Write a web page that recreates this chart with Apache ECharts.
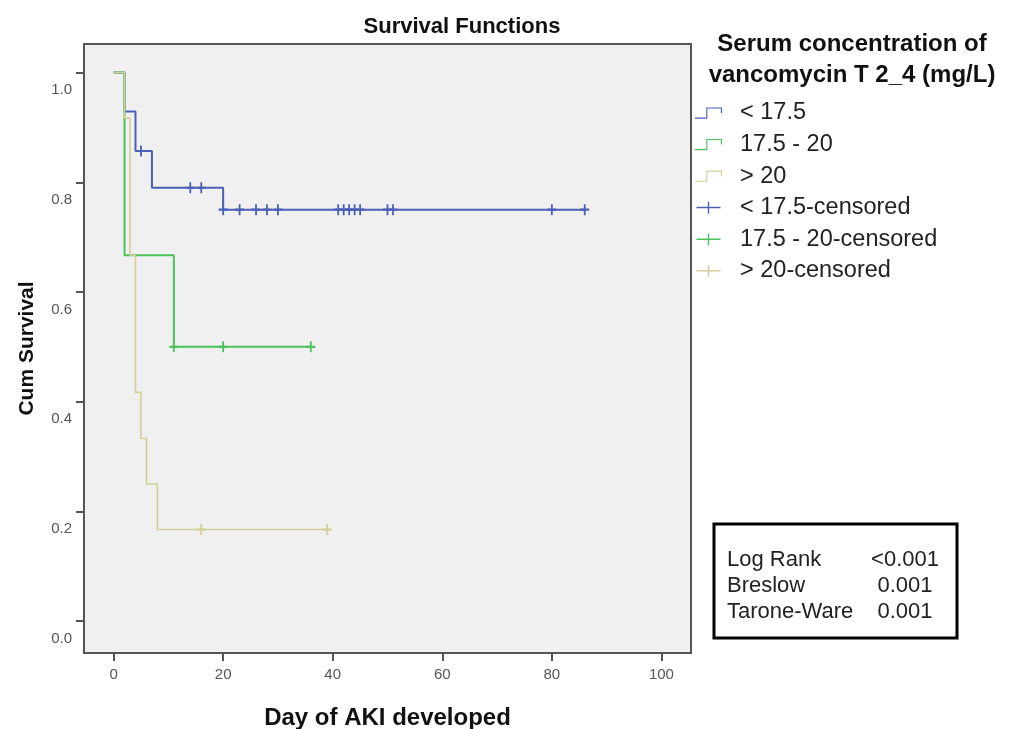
<!DOCTYPE html>
<html>
<head>
<meta charset="utf-8">
<script src="https://cdn.jsdelivr.net/npm/echarts@6/dist/echarts.min.js"></script>
<style>
  html, body { margin: 0; padding: 0; background: #fff; }
  #chart { width: 1013px; height: 729px; }
</style>
</head>
<body>
<div id="chart"></div>
<script>
// axis ticks
const xTicks = [0, 20, 40, 60, 80, 100]
const yTicks = [0, 0.2, 0.4, 0.6, 0.8, 1.0]

// groups
const groupNames = ['< 17.5', '17.5 - 20', '> 20']
const groupColors = ['#4b5fb5', '#4cc25a', '#d3cd98']

// Kaplan-Meier steps (day, cum survival)
const lowDays = [0, 2, 4, 7, 20, 86]
const lowSurv = [1.0, 0.929, 0.857, 0.79, 0.75, 0.75]
const midDays = [0, 2, 11, 36]
const midSurv = [1.0, 0.667, 0.5, 0.5]
const highDays = [0, 2, 3, 4, 5, 6, 8, 39]
const highSurv = [1.0, 0.917, 0.667, 0.417, 0.333, 0.25, 0.167, 0.167]

// censored days
const lowCensor = [5, 14, 16, 20, 23, 26, 28, 30, 41, 42, 43, 44, 45, 50, 51, 80, 86]
const midCensor = [11, 20, 36]
const highCensor = [16, 39]

// test table
const testNames = ['Log Rank', 'Breslow', 'Tarone-Ware']
const testP = ['<0.001', '0.001', '0.001']

const font = 'Arial, "Liberation Sans", sans-serif'

function pairs(days, surv) {
  return days.map((d, i) => [d, surv[i]])
}
// survival value at a censored time
function onCurve(days, surv, cens) {
  return cens.map(c => {
    let v = surv[0]
    days.forEach((d, i) => { if (d <= c) v = surv[i] })
    return [c, v]
  })
}

const stepData = [pairs(lowDays, lowSurv), pairs(midDays, midSurv), pairs(highDays, highSurv)]
const censData = [
  onCurve(lowDays, lowSurv, lowCensor),
  onCurve(midDays, midSurv, midCensor),
  onCurve(highDays, highSurv, highCensor)
]

const plusSymbol = 'path://M4,0H6V4H10V6H6V10H4V6H0V4H4Z'
const stepIcon = 'path://M0,10H10V1H24V6H23V2H11V11H0Z'
const plusIcon = 'path://M0,5H24V6.5H0Z M11.3,0H12.7V12H11.3Z'

const series = []
groupNames.forEach((name, i) => {
  series.push({
    name: name,
    type: 'line',
    step: 'end',
    data: stepData[i],
    symbol: 'none',
    z: 2 + i,
    lineStyle: { color: groupColors[i], width: i === 2 ? 1.6 : 2 },
    itemStyle: { color: groupColors[i] }
  })
})
groupNames.forEach((name, i) => {
  series.push({
    name: name + '-censored',
    type: 'scatter',
    data: censData[i],
    symbol: plusSymbol,
    symbolSize: [9, 11],
    z: 2 + i,
    itemStyle: { color: groupColors[i], opacity: 1 }
  })
})

const legendData = groupNames.map((name, i) => ({ name: name, icon: stepIcon, itemStyle: { color: groupColors[i] } }))
  .concat(groupNames.map((name, i) => ({ name: name + '-censored', icon: plusIcon, itemStyle: { color: groupColors[i] } })))

const graphics = [{
  type: 'rect',
  shape: { x: 714, y: 524, width: 243, height: 114 },
  style: { fill: '#fff', stroke: '#000', lineWidth: 3 }
}]
testNames.forEach((t, i) => {
  graphics.push({
    type: 'text', x: 727, y: 560 + i * 26,
    style: { text: t, font: '22px ' + font, fill: '#222', textVerticalAlign: 'middle' }
  })
  graphics.push({
    type: 'text', x: 905, y: 560 + i * 26,
    style: { text: testP[i], font: '22px ' + font, fill: '#222', textAlign: 'center', textVerticalAlign: 'middle' }
  })
})

const chart = echarts.init(document.getElementById('chart'))
chart.setOption({
  animation: false,
  backgroundColor: '#fff',
  title: [{
    text: 'Survival Functions',
    left: 457, top: 11, textAlign: 'center',
    textStyle: { fontFamily: font, fontSize: 22, fontWeight: 'bold', color: '#111' }
  }, {
    text: 'Serum concentration of\nvancomycin T 2_4 (mg/L)',
    left: 847, top: 24, textAlign: 'center',
    textStyle: { fontFamily: font, fontSize: 24, fontWeight: 'bold', color: '#111', lineHeight: 31 }
  }],
  legend: {
    orient: 'vertical',
    left: 690, top: 96,
    itemWidth: 27, itemHeight: 12, itemGap: 7.6,
    data: legendData,
    textStyle: { fontFamily: font, fontSize: 23.5, color: '#222', padding: [0, 0, 0, 13] }
  },
  grid: {
    left: 84, top: 44, width: 607, height: 609,
    outerBoundsMode: 'none',
    show: true, backgroundColor: '#f0f0f0', borderColor: '#555', borderWidth: 2
  },
  xAxis: {
    type: 'value', min: -5.4, max: 105.4,
    name: 'Day of AKI developed', nameLocation: 'middle', nameGap: 53,
    nameTextStyle: { fontFamily: font, fontSize: 24, fontWeight: 'bold', color: '#111' },
    axisLine: { show: true, onZero: false, lineStyle: { color: '#555', width: 2 } },
    axisTick: { show: true, length: 8, customValues: xTicks, lineStyle: { color: '#555', width: 2 } },
    axisLabel: { customValues: xTicks, margin: 14, fontFamily: font, fontSize: 15, color: '#555' },
    splitLine: { show: false }
  },
  yAxis: {
    type: 'value', min: -0.058, max: 1.052,
    name: 'Cum Survival', nameLocation: 'middle', nameGap: 46, nameRotate: 90,
    nameTextStyle: { fontFamily: font, fontSize: 21, fontWeight: 'bold', color: '#111' },
    axisLine: { show: true, onZero: false, lineStyle: { color: '#555', width: 2 } },
    axisTick: { show: true, length: 8, customValues: yTicks, lineStyle: { color: '#555', width: 2 } },
    axisLabel: {
      customValues: yTicks, margin: 12, fontFamily: font, fontSize: 15, color: '#555',
      verticalAlign: 'top', padding: [10, 0, 0, 0],
      formatter: v => v.toFixed(1)
    },
    splitLine: { show: false }
  },
  series: series,
  graphic: graphics
})
</script>
</body>
</html>
